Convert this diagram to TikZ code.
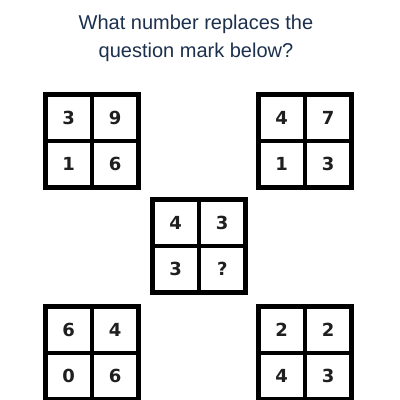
\documentclass[tikz,border=0pt]{standalone}
\usepackage{fontspec}
\setmainfont{Liberation Sans}
\newfontfamily\digitfont{DejaVu Sans}
\definecolor{titleblue}{RGB}{28,48,78}
\begin{document}
\begin{tikzpicture}[x=1pt,y=-1pt,
  cell/.style={draw=black,line width=4.2pt,minimum size=46.5pt,inner sep=0pt,outer sep=0pt,font=\digitfont\bfseries\fontsize{18}{18}\selectfont,text=black!88},
  title/.style={font=\fontsize{20}{28}\selectfont,text=titleblue,align=center}]
\useasboundingbox[fill=white] (0,0) rectangle (400,400);
\node[title] (t1) at (196,24) {What number replaces the};
\node[title] (t2) at (196,52) {question mark below?};
\newcommand{\mygrid}[7]{%
  \node[cell] (#1a) at (#2-23.25,#3-23.25) {#4};
  \node[cell] (#1b) at (#2+23.25,#3-23.25) {#5};
  \node[cell] (#1c) at (#2-23.25,#3+23.25) {#6};
  \node[cell] (#1d) at (#2+23.25,#3+23.25) {#7};}
\mygrid{tl}{92}{141}{3}{9}{1}{6}
\mygrid{tr}{305}{141}{4}{7}{1}{3}
\mygrid{c}{199}{246}{4}{3}{3}{?}
\mygrid{bl}{92}{353}{6}{4}{0}{6}
\mygrid{br}{305}{353}{2}{2}{4}{3}
\end{tikzpicture}
\end{document}
